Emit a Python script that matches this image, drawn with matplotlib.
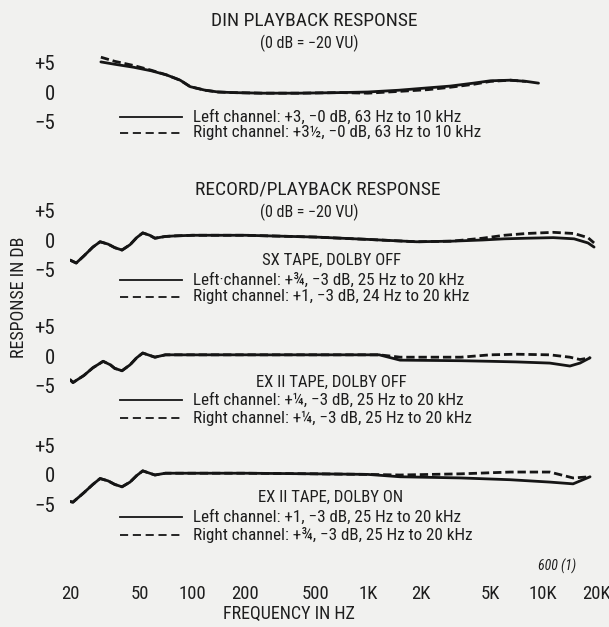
import matplotlib
matplotlib.use("Agg")
import matplotlib.pyplot as plt
from matplotlib import font_manager
from matplotlib.lines import Line2D

W, H = 609, 627

# ---------------- data ----------------
freq_ticks = [20, 50, 100, 200, 500, 1000, 2000, 5000, 10000, 20000]
freq_tick_labels = ["20", "50", "100", "200", "500", "1K", "2K", "5K", "10K", "20K"]
db_ticks = [5, 0, -5]
db_tick_labels = ["+5", "0", "\u22125"]

din_freq_l = [30, 36, 46, 58, 71, 85, 97, 118, 140, 170, 250, 400, 700, 1000, 1500, 2200, 2940, 4000, 5000, 6500, 8000, 9400]
din_db_l = [5.1, 4.7, 4.2, 3.6, 2.9, 2.0, 0.9, 0.3, 0.0, -0.1, -0.2, -0.2, -0.1, 0.0, 0.3, 0.7, 1.0, 1.5, 1.9, 2.0, 1.8, 1.5]
din_freq_r = [30, 36, 46, 58, 71, 85, 97, 118, 140, 170, 250, 400, 700, 1000, 1500, 2200, 2940, 4000, 5000, 6500, 8000]
din_db_r = [5.9, 5.2, 4.5, 3.7, 2.9, 2.0, 0.9, 0.3, 0.0, -0.1, -0.2, -0.2, -0.1, -0.2, 0.1, 0.4, 0.8, 1.3, 1.8, 2.0, 1.8]

sx_freq = [20, 21.7, 24, 27, 29.7, 33, 36, 39.6, 44, 48, 52, 57, 61, 70, 80, 100, 200, 500, 1000, 1900, 3000, 4500, 6000, 8000, 11400, 15000, 18000, 19500]
sx_db_l = [-3.4, -3.9, -2.7, -1.2, -0.3, -0.7, -1.3, -1.7, -0.8, 0.4, 1.2, 0.8, 0.3, 0.6, 0.7, 0.8, 0.8, 0.5, 0.1, -0.3, -0.2, 0.0, 0.2, 0.3, 0.4, 0.2, -0.5, -1.2]
sx_db_r = [-3.4, -3.9, -2.7, -1.2, -0.3, -0.7, -1.3, -1.7, -0.8, 0.4, 1.2, 0.8, 0.3, 0.6, 0.7, 0.8, 0.8, 0.5, 0.1, -0.3, -0.2, 0.3, 0.8, 1.1, 1.3, 1.1, 0.4, -0.5]

ex_off_freq = [20, 20.8, 24, 27, 30.9, 34, 36, 39.6, 44, 48, 52, 57, 61, 70, 100, 200, 500, 1160, 1525, 3400, 5000, 7000, 10900, 14200, 16200, 18500]
ex_off_db_l = [-4.0, -4.5, -3.3, -2.0, -0.9, -1.5, -2.1, -2.5, -1.5, -0.3, 0.5, 0.1, -0.2, 0.2, 0.2, 0.2, 0.2, 0.2, -0.7, -0.8, -0.9, -1.0, -1.2, -1.7, -1.2, -0.3]
ex_off_db_r = [-4.0, -4.5, -3.3, -2.0, -0.9, -1.5, -2.1, -2.5, -1.5, -0.3, 0.5, 0.1, -0.2, 0.2, 0.2, 0.2, 0.2, 0.2, -0.2, -0.2, 0.2, 0.3, 0.2, -0.2, -0.6, -0.3]

ex_on_freq = [20, 20.8, 24, 27, 29.7, 33, 36, 39.6, 44, 48, 52, 57, 61, 70, 100, 200, 500, 1000, 1525, 3400, 6470, 10900, 14800, 18500]
ex_on_db_l = [-4.5, -4.6, -3.0, -1.6, -0.6, -1.0, -1.6, -2.0, -1.2, -0.1, 0.7, 0.3, 0.0, 0.3, 0.3, 0.3, 0.2, 0.1, -0.3, -0.5, -0.8, -1.2, -1.5, -0.3]
ex_on_db_r = [-4.5, -4.6, -3.0, -1.6, -0.6, -1.0, -1.6, -2.0, -1.2, -0.1, 0.7, 0.3, 0.0, 0.3, 0.3, 0.3, 0.2, 0.1, 0.0, 0.2, 0.5, 0.5, -0.5, -0.3]

titles = ["DIN PLAYBACK RESPONSE", "RECORD/PLAYBACK RESPONSE"]
subtitle = "(0 dB = \u221220 VU)"
panel_heads = ["SX TAPE, DOLBY OFF", "EX II TAPE, DOLBY OFF", "EX II TAPE, DOLBY ON"]
legend_texts = [
    ("Left channel: +3, \u22120 dB, 63 Hz to 10 kHz", "Right channel: +3\u00bd, \u22120 dB, 63 Hz to 10 kHz"),
    ("Left\u00b7channel: +\u00be, \u22123 dB, 25 Hz to 20 kHz", "Right channel: +1, \u22123 dB, 24 Hz to 20 kHz"),
    ("Left channel: +\u00bc, \u22123 dB, 25 Hz to 20 kHz", "Right channel: +\u00bc, \u22123 dB, 25 Hz to 20 kHz"),
    ("Left channel: +1, \u22123 dB, 25 Hz to 20 kHz", "Right channel: +\u00be, \u22123 dB, 25 Hz to 20 kHz"),
]

# ---------------- fonts ----------------
names = {f.name for f in font_manager.fontManager.ttflist}
stretch = "normal"
for cand in ["Liberation Sans Narrow", "Roboto Condensed", "Open Sans Condensed", "Noto Sans Condensed"]:
    if cand in names:
        base = cand
        break
else:
    base = "DejaVu Sans"
    stretch = "condensed"
plt.rcParams["font.family"] = [base, "DejaVu Sans"]
plt.rcParams["font.stretch"] = stretch

BG = "#f1f1ef"
INK = "#151515"
TXT = "#1e1e1e"

fig = plt.figure(figsize=(W / 100, H / 100), dpi=100, facecolor=BG)


def fx(px):
    return px / W


def fy(py):
    return 1 - py / H


X0, X1 = 70, 596
S = 5.9  # px per dB
YR = 8

panels = [
    (92, din_freq_l, din_db_l, din_freq_r, din_db_r),
    (240, sx_freq, sx_db_l, sx_freq, sx_db_r),
    (356, ex_off_freq, ex_off_db_l, ex_off_freq, ex_off_db_r),
    (475, ex_on_freq, ex_on_db_l, ex_on_freq, ex_on_db_r),
]

DASH = (0, (3.0, 1.4))
for y0, fl, dl, fr, dr in panels:
    ax = fig.add_axes([fx(X0), fy(y0 + YR * S), (X1 - X0) / W, 2 * YR * S / H])
    ax.set_xscale("log")
    ax.set_xlim(20, 20000)
    ax.set_ylim(-YR, YR)
    ax.patch.set_alpha(0)
    for sp in ax.spines.values():
        sp.set_visible(False)
    ax.set_xticks([])
    ax.set_xticks([], minor=True)
    ax.set_yticks(db_ticks)
    ax.set_yticklabels(db_tick_labels)
    ax.tick_params(axis="y", length=0, pad=11, labelsize=15, labelcolor=TXT)
    ax.plot(fl, dl, color=INK, lw=2.0, solid_capstyle="round", solid_joinstyle="round")
    ax.plot(fr, dr, color=INK, lw=2.0, linestyle=DASH)

# frequency axis
axf = fig.add_axes([fx(X0), fy(582), (X1 - X0) / W, 0.0005])
axf.set_xscale("log")
axf.set_xlim(20, 20000)
axf.patch.set_alpha(0)
for sp in axf.spines.values():
    sp.set_visible(False)
axf.set_yticks([])
axf.set_xticks(freq_ticks)
axf.set_xticklabels(freq_tick_labels)
axf.set_xticks([], minor=True)
axf.tick_params(axis="x", length=0, pad=2, labelsize=13.5, labelcolor=TXT)

# titles
fig.text(fx(314), fy(21), titles[0], ha="center", va="center", fontsize=14, color=TXT)
fig.text(fx(309), fy(43), subtitle, ha="center", va="center", fontsize=11.5, color=TXT)
fig.text(fx(318), fy(190), titles[1], ha="center", va="center", fontsize=14, color=TXT)
fig.text(fx(309), fy(212), subtitle, ha="center", va="center", fontsize=11.5, color=TXT)

heads_y = [260, 382, 497]
for txt, yy in zip(panel_heads, heads_y):
    fig.text(fx(331), fy(yy), txt, ha="center", va="center", fontsize=12, color=TXT)

leg_y = [(117, 133), (280, 297), (400, 418), (517, 535)]
for (lt, rt), (y1, y2) in zip(legend_texts, leg_y):
    fig.add_artist(Line2D([fx(120), fx(182)], [fy(y1), fy(y1)], color=INK, lw=1.3))
    fig.add_artist(Line2D([fx(120), fx(182)], [fy(y2), fy(y2)], color=INK, lw=1.3, linestyle=(0, (4.5, 2.6))))
    fig.text(fx(193), fy(y1), lt, ha="left", va="center", fontsize=12.3, color=TXT)
    fig.text(fx(193), fy(y2), rt, ha="left", va="center", fontsize=12.3, color=TXT)

fig.text(fx(576), fy(566), "600 (1)", ha="right", va="center", fontsize=10, style="italic", color=TXT)
fig.text(fx(289), fy(614), "FREQUENCY IN HZ", ha="center", va="center", fontsize=13, color=TXT)
fig.text(fx(19), fy(297), "RESPONSE IN DB", ha="center", va="center", rotation=90, fontsize=13, color=TXT)

fig.savefig("out.png", dpi=100, facecolor=BG)
